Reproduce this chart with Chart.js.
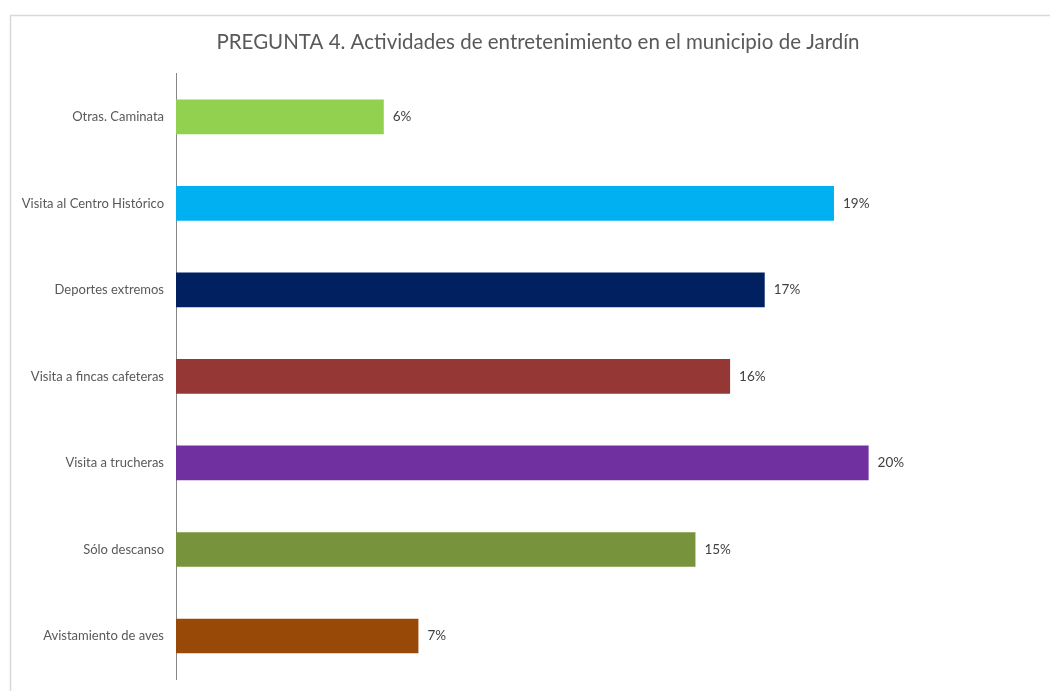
<!DOCTYPE html>
<html>
<head>
<meta charset="utf-8">
<script src="https://cdn.jsdelivr.net/npm/chart.js@4"></script>
<style>
  html, body { margin: 0; padding: 0; background: #ffffff; overflow: hidden; }
  #wrap { position: relative; width: 1050px; height: 691px; overflow: hidden; }
</style>
</head>
<body>
<div id="wrap"><canvas id="chart" width="1076" height="691"></canvas></div>
<script>
// Activities chosen by visitors (percent of respondents)
const categories = [
  'Otras. Caminata',
  'Visita al Centro Histórico',
  'Deportes extremos',
  'Visita a fincas cafeteras',
  'Visita a trucheras',
  'Sólo descanso',
  'Avistamiento de aves'
];
const percentages = [6, 19, 17, 16, 20, 15, 7];
const barColors = ['#92d050', '#00b0f0', '#002060', '#953735', '#7030a0', '#77933c', '#984807'];
const chartTitle = 'PREGUNTA 4. Actividades de entretenimiento en el municipio de Jardín';

const FONT = 'Lato, "Open Sans", sans-serif';

// Light frame around the chart
const framePlugin = {
  id: 'frame',
  beforeDraw(chart) {
    const ctx = chart.ctx;
    ctx.save();
    ctx.strokeStyle = '#d9d9d9';
    ctx.lineWidth = 1.5;
    ctx.beginPath();
    ctx.moveTo(10.5, chart.height);
    ctx.lineTo(10.5, 15.5);
    ctx.lineTo(chart.width, 15.5);
    ctx.stroke();
    ctx.restore();
  }
};

// Percentage labels at the end of each bar
const valueLabels = {
  id: 'valueLabels',
  afterDatasetsDraw(chart) {
    const ctx = chart.ctx;
    const meta = chart.getDatasetMeta(0);
    ctx.save();
    ctx.font = '13.5px ' + FONT;
    ctx.fillStyle = '#404040';
    ctx.textAlign = 'left';
    ctx.textBaseline = 'middle';
    meta.data.forEach((bar, i) => {
      ctx.fillText(percentages[i] + '%', bar.x + 9, bar.y);
    });
    ctx.restore();
  }
};

new Chart(document.getElementById('chart'), {
  type: 'bar',
  data: {
    labels: categories,
    datasets: [{
      data: percentages,
      backgroundColor: barColors,
      borderWidth: 0,
      categoryPercentage: 1,
      barPercentage: 0.4
    }]
  },
  options: {
    indexAxis: 'y',
    responsive: false,
    animation: false,
    devicePixelRatio: 1,
    layout: { padding: { left: 10, right: 10, top: 0, bottom: 0 } },
    plugins: {
      legend: { display: false },
      tooltip: { enabled: false },
      title: {
        display: true,
        text: chartTitle,
        color: '#595959',
        font: { family: FONT, size: 20.5, weight: 'normal' },
        padding: { top: 30, bottom: 19 }
      }
    },
    scales: {
      x: {
        display: false,
        min: 0,
        max: 25.7
      },
      y: {
        afterFit(axis) { axis.width = 166; },
        grid: { display: false },
        border: { display: true, color: '#868686', width: 1 },
        ticks: {
          color: '#595959',
          font: { family: FONT, size: 13 },
          padding: 4
        }
      }
    }
  },
  plugins: [framePlugin, valueLabels]
});
</script>
</body>
</html>
